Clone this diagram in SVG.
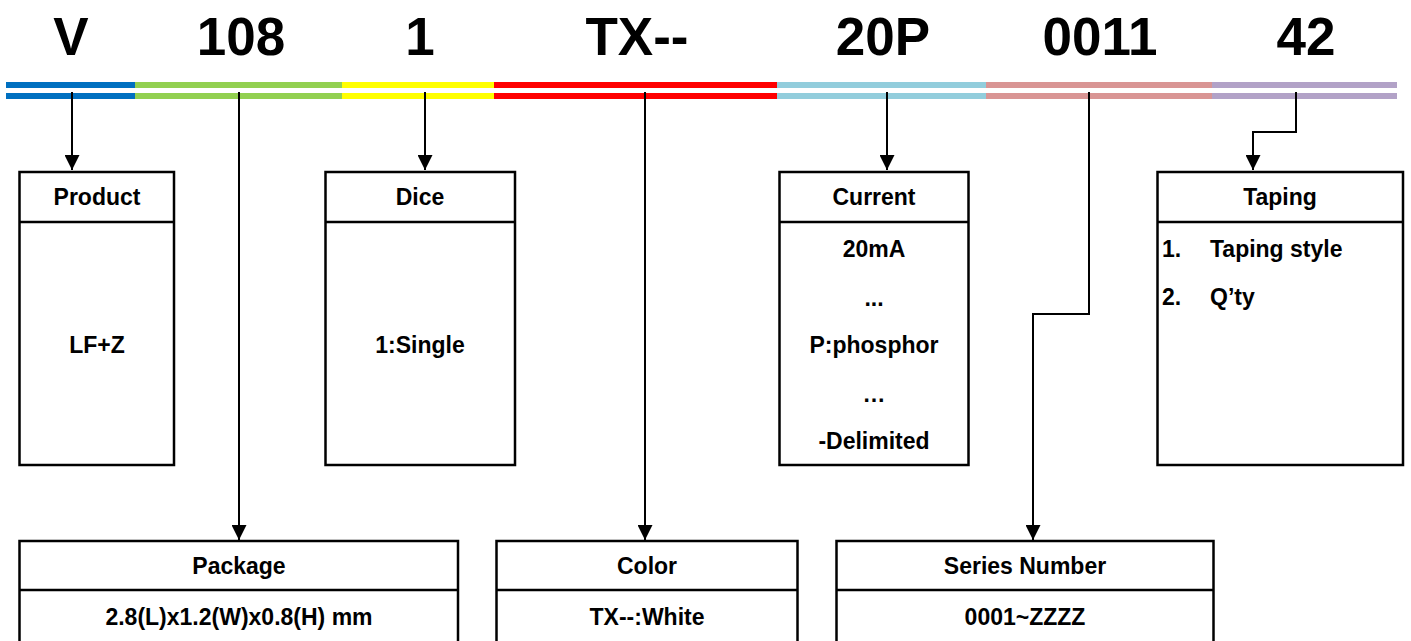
<svg xmlns="http://www.w3.org/2000/svg" width="1411" height="641" viewBox="0 0 1411 641">
<style>
text{font-family:"Liberation Sans",Arial,sans-serif;font-weight:bold;fill:#000}
.t{font-size:53px;text-anchor:middle}
.h{font-size:23px;text-anchor:middle}
.l{font-size:23px}
.box{fill:#fff;stroke:#000;stroke-width:2.5}
.div{stroke:#000;stroke-width:2.5}
.c{fill:none;stroke:#000;stroke-width:2}
</style>
<defs>
<marker id="ah" markerUnits="userSpaceOnUse" markerWidth="15" markerHeight="15" refX="15" refY="7.5" orient="auto">
<path d="M0,0 L15,7.5 L0,15 Z" fill="#000"/>
</marker>
</defs>
<g id="code">
<text class="t" x="71" y="55">V</text>
<text class="t" x="241" y="55">108</text>
<text class="t" x="420" y="55">1</text>
<text class="t" x="637" y="55">TX--</text>
<text class="t" x="883" y="55">20P</text>
<text class="t" x="1100" y="55">0011</text>
<text class="t" x="1306" y="55">42</text>
</g>
<g id="bars">
<rect x="6" y="82" width="129" height="6" fill="#0070C0"/><rect x="6" y="93" width="129" height="6" fill="#0070C0"/>
<rect x="135" y="82" width="207" height="6" fill="#92D050"/><rect x="135" y="93" width="207" height="6" fill="#92D050"/>
<rect x="342" y="82" width="152" height="6" fill="#FFFF00"/><rect x="342" y="93" width="152" height="6" fill="#FFFF00"/>
<rect x="494" y="82" width="283" height="6" fill="#FF0000"/><rect x="494" y="93" width="283" height="6" fill="#FF0000"/>
<rect x="777" y="82" width="209" height="6" fill="#92CDDC"/><rect x="777" y="93" width="209" height="6" fill="#92CDDC"/>
<rect x="986" y="82" width="226" height="6" fill="#D99594"/><rect x="986" y="93" width="226" height="6" fill="#D99594"/>
<rect x="1212" y="82" width="185" height="6" fill="#B2A2C7"/><rect x="1212" y="93" width="185" height="6" fill="#B2A2C7"/>
</g>
<g id="connectors">
<path class="c" d="M72,92 V170" marker-end="url(#ah)"/>
<path class="c" d="M239,92 V540" marker-end="url(#ah)"/>
<path class="c" d="M425,92 V170" marker-end="url(#ah)"/>
<path class="c" d="M645,92 V540" marker-end="url(#ah)"/>
<path class="c" d="M887,92 V170" marker-end="url(#ah)"/>
<path class="c" d="M1089,92 V314 H1033 V540" marker-end="url(#ah)"/>
<path class="c" d="M1296,92 V132 H1253 V170" marker-end="url(#ah)"/>
</g>
<g id="product">
<rect class="box" x="19.5" y="172" width="154.5" height="293"/>
<line class="div" x1="19.5" y1="222" x2="174" y2="222"/>
<text class="h" x="97" y="205">Product</text>
<text class="h" x="97" y="353">LF+Z</text>
</g>
<g id="dice">
<rect class="box" x="325.5" y="172" width="189.5" height="293"/>
<line class="div" x1="325.5" y1="222" x2="515" y2="222"/>
<text class="h" x="420" y="205">Dice</text>
<text class="h" x="420" y="353">1:Single</text>
</g>
<g id="current">
<rect class="box" x="779.5" y="172" width="189" height="293"/>
<line class="div" x1="779.5" y1="222" x2="968.5" y2="222"/>
<text class="h" x="874" y="205">Current</text>
<text class="h" x="874" y="257">20mA</text>
<text class="h" x="874" y="306">...</text>
<text class="h" x="874" y="353">P:phosphor</text>
<text class="h" x="874" y="402">…</text>
<text class="h" x="874" y="449">-Delimited</text>
</g>
<g id="taping">
<rect class="box" x="1157.5" y="172" width="245.5" height="293"/>
<line class="div" x1="1157.5" y1="222" x2="1403" y2="222"/>
<text class="h" x="1280" y="205">Taping</text>
<text class="l" x="1162" y="257">1.</text>
<text class="l" x="1210" y="257">Taping style</text>
<text class="l" x="1162" y="305">2.</text>
<text class="l" x="1210" y="305">Q’ty</text>
</g>
<g id="package">
<rect class="box" x="19.5" y="541" width="438.5" height="110"/>
<line class="div" x1="19.5" y1="590" x2="458" y2="590"/>
<text class="h" x="239" y="574">Package</text>
<text class="h" x="239" y="625">2.8(L)x1.2(W)x0.8(H) mm</text>
</g>
<g id="color">
<rect class="box" x="496.5" y="541" width="301" height="110"/>
<line class="div" x1="496.5" y1="590" x2="797.5" y2="590"/>
<text class="h" x="647" y="574">Color</text>
<text class="h" x="647" y="625">TX--:White</text>
</g>
<g id="series">
<rect class="box" x="836.5" y="541" width="377" height="110"/>
<line class="div" x1="836.5" y1="590" x2="1213.5" y2="590"/>
<text class="h" x="1025" y="574">Series Number</text>
<text class="h" x="1025" y="625">0001~ZZZZ</text>
</g>
</svg>
